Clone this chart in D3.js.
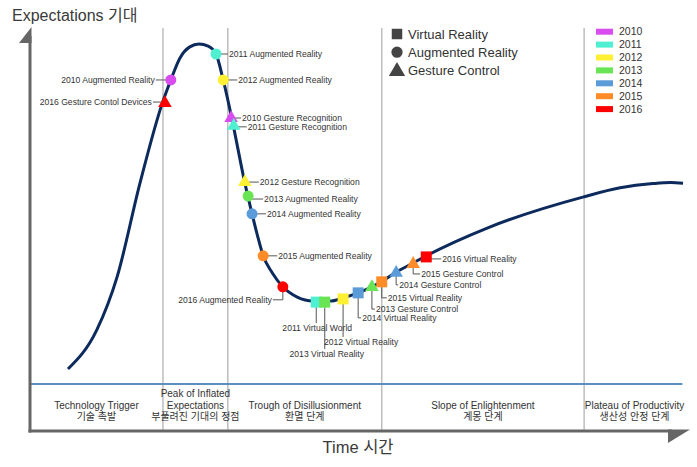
<!DOCTYPE html>
<html><head><meta charset="utf-8">
<script src="https://cdn.jsdelivr.net/npm/d3@7"></script>
<style>
html,body{margin:0;padding:0;background:#fff;}
svg{display:block;font-family:"Liberation Sans","Noto Sans CJK KR",sans-serif;}
</style></head>
<body>
<svg id="chart" width="697" height="467"></svg>
<script>
// ---------------- DATA ----------------
// Hype curve (time 0-100, expectations 0-100)
const curveTime   = [5.8,10.2,13.3,16.8,20.2,21.5,22.9,24.4,25.8,27.2,28.4,29.5,30.8,32.8,33.9,34.7,35.6,37.0,38.6,40.8,43.2,45.8,47.8,50.1,52.2,53.6,55.7,58.5,60.5,69.8,84.4,90.1,95.1,97.8,99.7];
const curveExpect = [4.2,15.2,30.1,56.5,78.9,85.4,91.6,94.7,95.5,94.9,92.7,85.4,74.7,56.5,47.8,41.9,36.0,31.2,27.3,24.4,23.3,23.3,24.2,25.6,27.3,28.7,31.2,34.0,36.0,43.8,52.5,55.1,56.3,56.6,56.4];

// Technologies placed on the curve
const markerTech   = ["AR","GC","AR","AR","GC","GC","GC","AR","AR","AR","AR","VR","VR","VR","VR","GC","VR","GC","GC","VR"];
const markerYear   = [2010,2016,2011,2012,2010,2011,2012,2013,2014,2015,2016,2011,2013,2012,2014,2013,2015,2014,2015,2016];
const markerTime   = [21.5,20.6,28.4,29.5,30.7,31.1,32.8,33.3,33.9,35.6,38.6,43.7,45.0,47.8,50.1,52.2,53.7,55.9,58.5,60.5];
const markerExpect = [85.4,79.2,92.7,85.4,75.0,72.8,57.0,52.8,47.8,36.0,27.3,23.0,23.0,23.9,25.6,27.5,28.7,31.5,34.0,35.7];
const markerLabel  = ["2010 Augmented Reality","2016 Gesture Contol Devices","2011 Augmented Reality","2012 Augmented Reality",
  "2010 Gesture Recognition","2011 Gesture Recognition","2012 Gesture Recognition","2013 Augmented Reality",
  "2014 Augmented Reality","2015 Augmented Reality","2016 Augmented Reality","2011 Virtual World",
  "2013 Virtual Reality","2012 Virtual Reality","2014 Virtual Reality","2013 Gesture Control",
  "2015 Virtual Reality","2014 Gesture Control","2015 Gesture Control","2016 Virtual Reality"];

// Phases
const phaseBounds  = [0,20.3,30.2,53.7,84.6,100];
const phaseEnglish = [["Technology Trigger"],["Peak of Inflated","Expectations"],["Trough of Disillusionment"],["Slope of Enlightenment"],["Plateau of Productivity"]];
const phaseKorean  = ["기술 촉발","부풀려진 기대의 정점","환멸 단계","계몽 단계","생산성 안정 단계"];

// Legends
const techCodes  = ["VR","AR","GC"];
const techNames  = ["Virtual Reality","Augmented Reality","Gesture Control"];
const years      = [2010,2011,2012,2013,2014,2015,2016];
const yearColors = ["#d84cf0","#4ff0d2","#fff033","#68e454","#5b9bd8","#ff8c28","#ff0000"];

const yTitle = "Expectations 기대";
const xTitle = "Time 시간";

// ---------------- LAYOUT (label placement, px offsets) ----------------
// kind: h = horizontal leader; vh = down then sideways; v = straight down, centred text
const labelLayout = [
  {kind:"h", dx:-16, dy:0, anchor:"end"},
  {kind:"h", dx:-13, dy:0, anchor:"end"},
  {kind:"h", dx:13, dy:0, anchor:"start"},
  {kind:"h", dx:15, dy:0, anchor:"start"},
  {kind:"h", dx:11, dy:1, anchor:"start"},
  {kind:"h", dx:14, dy:2, anchor:"start"},
  {kind:"h", dx:15, dy:1, anchor:"start"},
  {kind:"h", dx:16, dy:3, anchor:"start"},
  {kind:"h", dx:15, dy:0, anchor:"start"},
  {kind:"h", dx:15, dy:0, anchor:"start"},
  {kind:"vh", dx:-11, dy:13, anchor:"end"},
  {kind:"v", dx:1, dy:26, anchor:"middle"},
  {kind:"v", dx:2, dy:52, anchor:"middle"},
  {kind:"v", dx:18, dy:43, anchor:"middle"},
  {kind:"vh", dx:4, dy:25, anchor:"start"},
  {kind:"vh", dx:4, dy:23, anchor:"start"},
  {kind:"vh", dx:6, dy:16, anchor:"start"},
  {kind:"vh", dx:3, dy:13, anchor:"start"},
  {kind:"vh", dx:8, dy:11, anchor:"start"},
  {kind:"h", dx:16, dy:2, anchor:"start"}
];

// ---------------- DRAW ----------------
const svg = d3.select("#chart");
const x = d3.scaleLinear().domain([0,100]).range([30,685]);
const y = d3.scaleLinear().domain([0,100]).range([384,28]);
const color = d3.scaleOrdinal().domain(years).range(yearColors);
const shapeOf = {VR:d3.symbolSquare, AR:d3.symbolCircle, GC:d3.symbolTriangle};
const sizeOf = {VR:121, AR:95, GC:80};

const axisY = 431;
const topY = 28;

// phase dividers
svg.append("g").selectAll("line").data(phaseBounds.slice(1,-1)).join("line")
  .attr("x1",d=>x(d)).attr("x2",d=>x(d)).attr("y1",topY).attr("y2",axisY)
  .attr("stroke","#bdbdbd").attr("stroke-width",1.5);

// blue baseline
svg.append("line").attr("x1",x(0)).attr("x2",x(99.6)).attr("y1",y(0)).attr("y2",y(0))
  .attr("stroke","#5b8fbf").attr("stroke-width",2);

// axes
svg.append("line").attr("x1",x(0)).attr("x2",x(0)).attr("y1",36).attr("y2",axisY+1.5)
  .attr("stroke","#666").attr("stroke-width",3);
svg.append("path").attr("d",`M${x(0)+1.5},27 L19,43 L${x(0)+1.5},43 Z`).attr("fill","#666");
svg.append("line").attr("x1",x(0)-1.5).attr("x2",672).attr("y1",axisY).attr("y2",axisY)
  .attr("stroke","#666").attr("stroke-width",3);
svg.append("path").attr("d",`M668,429.5 L690,429.5 L668,443 Z`).attr("fill","#666");

// titles
svg.append("text").attr("x",12).attr("y",21).attr("font-size",16).attr("fill","#3a3a3a").text(yTitle);
svg.append("text").attr("x",358).attr("y",453).attr("font-size",16.5).attr("fill","#3a3a3a")
  .attr("text-anchor","middle").text(xTitle);

// phase labels
const pg = svg.append("g").attr("font-size",10).attr("fill","#333").attr("text-anchor","middle");
phaseEnglish.forEach((lines,i)=>{
  const cx = x((phaseBounds[i]+phaseBounds[i+1])/2);
  const all = lines.concat([phaseKorean[i]]);
  const lastY = 420;
  all.forEach((t,j)=>{
    pg.append("text").attr("x",cx).attr("y",lastY-(all.length-1-j)*11.5).text(t);
  });
});

// curve
const pts = curveTime.map((t,i)=>({t, e:curveExpect[i]}));
svg.append("path").datum(pts)
  .attr("d", d3.line().x(d=>x(d.t)).y(d=>y(d.e)).curve(d3.curveMonotoneX))
  .attr("fill","none").attr("stroke","#0c2a5c").attr("stroke-width",3);

// markers data
const markers = markerTech.map((tech,i)=>({tech, year:markerYear[i], t:markerTime[i], e:markerExpect[i], label:markerLabel[i], lay:labelLayout[i]}));

// leader lines + labels
const lg = svg.append("g");
markers.forEach(m=>{
  const mx = x(m.t), my = y(m.e), L = m.lay;
  const tx = mx + L.dx, ty = my + L.dy;
  let pathD;
  if (L.kind==="h" || L.kind==="vh") {
    const dir = L.dx<0 ? -1 : 1;
    pathD = `M${mx},${my} L${mx},${ty} L${tx - dir*1},${ty}`;
  } else {
    pathD = `M${mx},${my} L${mx},${ty-5}`;
  }
  lg.append("path").attr("d",pathD).attr("fill","none").attr("stroke","#555").attr("stroke-width",1);
  lg.append("text").attr("x",tx).attr("y",ty).attr("dy","0.35em")
    .attr("text-anchor",L.anchor).attr("font-size",8.6).attr("fill","#333").text(m.label);
});

// markers
svg.append("g").selectAll("path").data(markers).join("path")
  .attr("transform",d=>`translate(${x(d.t)},${y(d.e) + (d.tech==="GC"?1:0)})`)
  .attr("d",d=>d3.symbol().type(shapeOf[d.tech]).size(sizeOf[d.tech])())
  .attr("fill",d=>color(d.year));

// technology legend
const tl = svg.append("g");
techCodes.forEach((c,i)=>{
  const cy = 34 + i*18.2;
  tl.append("path").attr("transform",`translate(397,${cy + (c==="GC"?1:0)})`)
    .attr("d",d3.symbol().type(shapeOf[c]).size(c==="VR"?110:c==="AR"?100:115)())
    .attr("fill","#444");
  tl.append("text").attr("x",408).attr("y",cy).attr("dy","0.36em").attr("font-size",13).attr("fill","#333").text(techNames[i]);
});

// year legend
const yl = svg.append("g");
years.forEach((yr,i)=>{
  const cy = 31.7 + i*12.9;
  yl.append("rect").attr("x",596).attr("y",cy-3).attr("width",17).attr("height",6).attr("fill",color(yr));
  yl.append("text").attr("x",619).attr("y",cy).attr("dy","0.36em").attr("font-size",10.5).attr("fill","#333").text(yr);
});
</script>
</body></html>
